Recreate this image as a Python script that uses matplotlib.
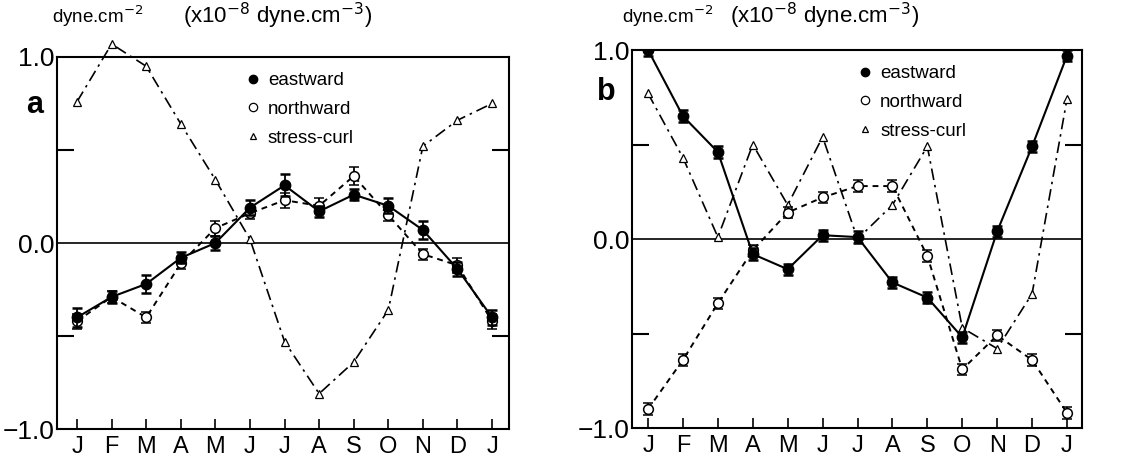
import matplotlib
matplotlib.use("Agg")
import matplotlib.pyplot as plt
from matplotlib.lines import Line2D
import numpy as np

plt.rcParams['font.family'] = ['Liberation Sans', 'DejaVu Sans']

months = ["J", "F", "M", "A", "M", "J", "J", "A", "S", "O", "N", "D", "J"]

# Panel a
a_east = [-0.40, -0.29, -0.22, -0.08, 0.00, 0.19, 0.31, 0.17, 0.26, 0.20, 0.07, -0.14, -0.40]
a_east_err = [0.05, 0.03, 0.05, 0.03, 0.04, 0.04, 0.06, 0.03, 0.03, 0.04, 0.05, 0.04, 0.04]
a_north = [-0.42, -0.29, -0.40, -0.11, 0.08, 0.16, 0.23, 0.20, 0.36, 0.15, -0.06, -0.12, -0.42]
a_north_err = [0.04, 0.03, 0.03, 0.03, 0.04, 0.03, 0.04, 0.04, 0.05, 0.03, 0.03, 0.04, 0.04]
a_curl = [0.76, 1.07, 0.95, 0.64, 0.34, 0.02, -0.53, -0.81, -0.64, -0.36, 0.52, 0.66, 0.75]

# Panel b
b_east = [1.00, 0.65, 0.46, -0.08, -0.16, 0.02, 0.01, -0.23, -0.31, -0.52, 0.04, 0.49, 0.97]
b_east_err = [0.03, 0.03, 0.03, 0.03, 0.03, 0.03, 0.03, 0.03, 0.03, 0.03, 0.03, 0.03, 0.03]
b_north = [-0.90, -0.64, -0.34, -0.06, 0.14, 0.22, 0.28, 0.28, -0.09, -0.69, -0.51, -0.64, -0.92]
b_north_err = [0.03, 0.03, 0.03, 0.03, 0.03, 0.03, 0.03, 0.03, 0.03, 0.03, 0.03, 0.03, 0.03]
b_curl = [0.77, 0.43, 0.01, 0.50, 0.18, 0.54, 0.00, 0.18, 0.49, -0.47, -0.58, -0.29, 0.74]

W, H = 1142, 461
fig = plt.figure(figsize=(W / 100, H / 100), dpi=100)

def px_axes(l, r, t, b):
    return [l / W, 1 - b / H, (r - l) / W, (b - t) / H]

ax_a = fig.add_axes(px_axes(57, 509, 57, 429))
ax_b = fig.add_axes(px_axes(632, 1082, 50, 428))

def draw(ax, east, east_err, north, north_err, curl, xlim, letter, letter_pos, leg_anchor):
    x = np.arange(len(months))
    ax.plot(x, curl, color='black', lw=1.2, ls=(0, (7, 3, 1.5, 3)),
            marker='^', ms=6, mfc='white', mec='black', mew=0.9, zorder=2,
            clip_on=False)
    ax.errorbar(x, north, yerr=north_err, color='black', lw=1.4, ls=(0, (3, 2.5)),
                marker='o', ms=7, mfc='white', mec='black', mew=1.1,
                ecolor='black', elinewidth=1.3, capsize=3.5, capthick=1.8, zorder=3)
    ax.errorbar(x, east, yerr=east_err, color='black', lw=1.5, ls='-',
                marker='o', ms=7.5, mfc='black', mec='black',
                ecolor='black', elinewidth=1.3, capsize=3.5, capthick=1.8, zorder=4)
    ax.axhline(0, color='black', lw=1.2, zorder=1)
    ax.set_xlim(*xlim)
    ax.set_ylim(-1.0, 1.0)
    for s in ax.spines.values():
        s.set_linewidth(1.5)
    ax.set_xticks(x)
    ax.set_xticklabels(months, fontsize=17)
    ax.tick_params(axis='x', direction='in', length=7, width=1.2, pad=5)
    ax.set_yticks([-1.0, 0.0, 1.0])
    ax.set_yticklabels(["\u22121.0", "0.0", "1.0"], fontsize=19)
    ax.set_yticks([-0.5, 0.5], minor=True)
    ax.tick_params(axis='y', which='major', length=0, pad=2)
    ax.tick_params(axis='y', which='minor', direction='in', length=12, width=1.5,
                   left=True, right=True)
    ax.text(letter_pos[0], letter_pos[1], letter, transform=ax.transAxes, fontsize=22,
            fontweight='bold', ha='center', va='center')
    handles = [
        Line2D([], [], ls='none', marker='o', ms=6, mfc='black', mec='black'),
        Line2D([], [], ls='none', marker='o', ms=6, mfc='white', mec='black', mew=0.9),
        Line2D([], [], ls='none', marker='^', ms=5, mfc='white', mec='black', mew=0.9),
    ]
    ax.legend(handles, ["eastward", "northward", "stress-curl"], loc='upper left',
              bbox_to_anchor=leg_anchor, frameon=False, fontsize=13.5,
              handlelength=0.6, handletextpad=0.5, labelspacing=0.62, borderpad=0)

draw(ax_a, a_east, a_east_err, a_north, a_north_err, a_curl, (-0.58, 12.49), "a",
     (-0.05, 0.87), (0.40, 0.985))
draw(ax_b, b_east, b_east_err, b_north, b_north_err, b_curl, (-0.46, 12.43), "b",
     (-0.058, 0.889), (0.485, 0.985))

for x0 in (52, 622):
    fig.text(x0 / W, 1 - 16 / H, r"dyne.cm$^{-2}$", fontsize=13.5, va='center')
fig.text(183 / W, 1 - 16 / H, r"(x10$^{-8}$ dyne.cm$^{-3}$)", fontsize=16, va='center')
fig.text(730 / W, 1 - 16 / H, r"(x10$^{-8}$ dyne.cm$^{-3}$)", fontsize=16, va='center')

fig.savefig("out.png", dpi=100)
